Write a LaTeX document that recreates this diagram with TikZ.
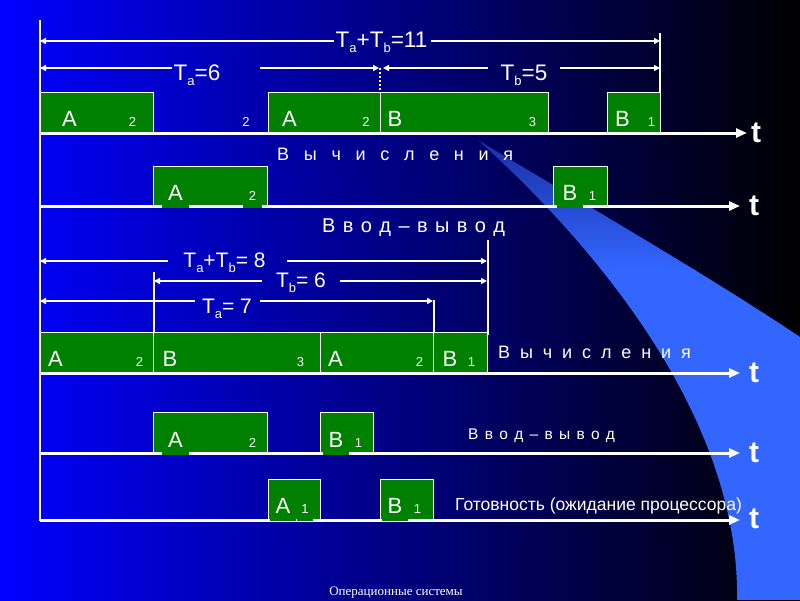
\documentclass[tikz,border=0pt]{standalone}
\usepackage{fontspec}
\setmainfont{Liberation Sans}
\newfontfamily\footfont{Liberation Serif}
\usetikzlibrary{arrows.meta}
\definecolor{bgblue}{RGB}{0,0,255}
\definecolor{boxgreen}{RGB}{0,128,0}
\definecolor{swoosh}{RGB}{51,102,255}
\definecolor{swoosh dim}{RGB}{25,45,160}
\newcommand\fs[1]{\fontsize{#1}{#1}\selectfont}
\newcommand\Tsub[1]{T\raisebox{-5pt}{\fs{13}#1}}
\newcommand\spaced[2]{{\spaceskip=#1\relax #2}}
\tikzset{
  every node/.style={text=white, inner sep=0pt},
  box/.style={draw=white, line width=1pt, fill=boxgreen, anchor=south west, minimum height=40pt, inner sep=0pt},
  lbl/.style={font=\fs{22}, anchor=base},
  num/.style={font=\fs{13}, anchor=base},
  cov/.style={fill=boxgreen, inner xsep=6pt, inner ysep=2pt, text depth=6pt},
  axis/.style={white, line width=3pt, -{Triangle[length=11pt,width=9pt]}},
  meas/.style={white, line width=2pt, -{Triangle[length=6pt,width=6pt]}},
  vline/.style={white, line width=2pt},
  tlbl/.style={font=\fs{30}\bfseries, anchor=base west},
  tl/.style={font=\fs{22.5}, anchor=base},
  tm/.style={font=\fs{21}, anchor=base},
  row/.style={anchor=base west}
}
\begin{document}
\begin{tikzpicture}[x=1pt,y=-1pt]
\useasboundingbox (0,0) rectangle (800,600);
\shade[left color=bgblue, right color=black] (0,0) rectangle (800,600);
\begin{scope}
  \clip (478,140) .. controls (600,250) and (740,420) .. (737,600) -- (800,600) -- (800,337) .. controls (700,270) and (560,190) .. (478,140) -- cycle;
  \shade[top color=swoosh dim, bottom color=swoosh] (470,135) rectangle (800,270);
  \fill[swoosh] (470,269) rectangle (800,600);
\end{scope}

% left vertical axis
\coordinate (top) at (40,20);
\coordinate (bot) at (40,521);
\draw[vline] (top) -- (bot);

% boxes row 1
\node[box, minimum width=113pt] (b11) at (40,133) {};
\node[box, minimum width=112pt] (b12) at (268,133) {};
\node[box, minimum width=168pt] (b13) at (380,133) {};
\node[box, minimum width=53pt] (b14) at (607,133) {};
% row 2
\node[box, minimum width=114pt, minimum height=39pt] (b21) at (153,206) {};
\node[box, minimum width=54pt, minimum height=39pt] (b22) at (553,206) {};
% row 3
\node[box, minimum width=113pt] (b31) at (40,373) {};
\node[box, minimum width=167pt] (b32) at (153,373) {};
\node[box, minimum width=113pt] (b33) at (320,373) {};
\node[box, minimum width=54pt] (b34) at (433,373) {};
% row 4
\node[box, minimum width=114pt] (b41) at (153,453) {};
\node[box, minimum width=53pt] (b42) at (320,453) {};
% row 5
\node[box, minimum width=52pt] (b51) at (268,520) {};
\node[box, minimum width=53pt] (b52) at (380,520) {};

% axes
\coordinate (o1) at (40,133); \coordinate (e1) at (747,133);
\coordinate (o2) at (40,206); \coordinate (e2) at (740,206);
\coordinate (o3) at (40,373); \coordinate (e3) at (740,373);
\coordinate (o4) at (40,453); \coordinate (e4) at (740,453);
\coordinate (o5) at (40,520); \coordinate (e5) at (740,520);
\draw[axis] (o1) -- (e1);
\draw[axis] (o2) -- (e2);
\draw[axis] (o3) -- (e3);
\draw[axis] (o4) -- (e4);
\draw[axis] (o5) -- (e5);
\node[tlbl] (t1) at (751,142) {t};
\node[tlbl] (t2) at (749,215) {t};
\node[tlbl] (t3) at (749,382) {t};
\node[tlbl] (t4) at (749,462) {t};
\node[tlbl] (t5) at (749,528) {t};

% labels row 1
\node[lbl] (l11) at (69.5,126) {A};
\node[num] (n11) at (132.5,126) {2};
\node[num] (n1x) at (246,126) {2};
\node[lbl] (l12) at (289.5,126) {A};
\node[num] (n12) at (366,126) {2};
\node[lbl] (l13) at (395,126) {B};
\node[num] (n13) at (532.5,126) {3};
\node[lbl] (l14) at (622.5,126) {B};
\node[num] (n14) at (651.5,126) {1};
% row 2
\node[lbl, cov] (l21) at (175.5,200) {A};
\node[num, cov] (n21) at (252.5,200) {2};
\node[lbl, cov] (l22) at (570,200) {B};
\node[num] (n22) at (592.5,200) {1};
% row 3
\node[lbl] (l31) at (55.5,366) {A};
\node[num] (n31) at (139.5,366) {2};
\node[lbl] (l32) at (170,366) {B};
\node[num] (n32) at (300.5,366) {3};
\node[lbl] (l33) at (335.5,366) {A};
\node[num] (n33) at (419.5,366) {2};
\node[lbl] (l34) at (450,366) {B};
\node[num] (n34) at (471.5,366) {1};
% row 4
\node[lbl, cov] (l41) at (175.5,447) {A};
\node[num] (n41) at (252.5,447) {2};
\node[lbl, cov] (l42) at (336,447) {B};
\node[num] (n42) at (358.5,447) {1};
% row 5
\node[lbl, cov] (l51) at (283,513) {A};
\node[num, cov, inner xsep=4pt] (n51) at (305,513) {1};
\node[lbl, cov] (l52) at (395,513) {B};
\node[num] (n52) at (417.5,513) {1};

% top measurements
\coordinate (m1l) at (40,41); \coordinate (m1r) at (660,41);
\node[tl] (m1) at (381.5,47) {\Tsub{a}+\Tsub{b}=11};
\draw[meas] (m1.west |- m1l) ++(-2,0) -- (m1l);
\draw[meas] (m1.east |- m1r) ++(4,0) -- (m1r);
\coordinate (v1t) at (660,33); \coordinate (v1b) at (660,93);
\draw[vline] (v1t) -- (v1b);

\coordinate (m2l) at (40,68); \coordinate (m2a) at (172,68);
\node[tl] (m2) at (197,80) {\Tsub{a}=6};
\draw[meas] (m2a) -- (m2l);
\coordinate (m2b) at (260,68); \coordinate (m2c) at (379,68);
\draw[meas] (m2b) -- (m2c);
\coordinate (m2d) at (383,68); \coordinate (m2e) at (488,68);
\draw[meas] (m2e) -- (m2d);
\node[tl] (m3) at (524,80) {\Tsub{b}=5};
\coordinate (m2f) at (560,68); \coordinate (m2r) at (660,68);
\draw[meas] (m2f) -- (m2r);
\coordinate (d1) at (380,68); \coordinate (d2) at (380,93);
\draw[white, line width=1.5pt, dash pattern=on 2pt off 2pt] (d1) -- (d2);

% middle measurements
\coordinate (k1l) at (40,261); \coordinate (k1a) at (168,261);
\coordinate (k1b) at (287,261); \coordinate (k1r) at (487,261);
\node[tm] (k1) at (224.5,267) {\Tsub{a}+\Tsub{b}= 8};
\draw[meas] (k1a) -- (k1l);
\draw[meas] (k1b) -- (k1r);
\coordinate (k2l) at (154,281); \coordinate (k2a) at (262,281);
\coordinate (k2b) at (340,281); \coordinate (k2r) at (487,281);
\node[tm] (k2) at (301,287) {\Tsub{b}= 6};
\draw[meas] (k2a) -- (k2l);
\draw[meas] (k2b) -- (k2r);
\coordinate (k3l) at (40,301); \coordinate (k3a) at (195,301);
\coordinate (k3b) at (260,301); \coordinate (k3r) at (433,301);
\node[tm] (k3) at (227,313) {\Tsub{a}= 7};
\draw[meas] (k3a) -- (k3l);
\draw[meas] (k3b) -- (k3r);
\coordinate (w1t) at (488,240); \coordinate (w1b) at (488,335);
\coordinate (w2t) at (154,272); \coordinate (w2b) at (154,333);
\coordinate (w3t) at (434,300); \coordinate (w3b) at (434,333);
\draw[vline] (w1t) -- (w1b);
\draw[vline] (w2t) -- (w2b);
\draw[vline] (w3t) -- (w3b);

% row texts
\node[row, font=\fs{18}] (x1) at (277,160) {\spaced{14.7pt}{В ы ч и с л е н и я}};
\node[row, font=\fs{20}] (x2) at (322,232) {\spaced{7.4pt}{В в о д – в ы в о д}};
\node[row, font=\fs{18}] (x3) at (498,358) {\spaced{9.9pt}{В ы ч и с л е н и я}};
\node[row, font=\fs{15.5}] (x4) at (468,439) {\spaced{6.3pt}{В в о д – в ы в о д}};
\node[row, font=\fs{17.5}] (x5) at (455,510) {Готовность (ожидание процессора)};
\node[anchor=base, font=\footfont\fs{13}] (foot) at (396,595) {Операционные системы};
\end{tikzpicture}
\end{document}
